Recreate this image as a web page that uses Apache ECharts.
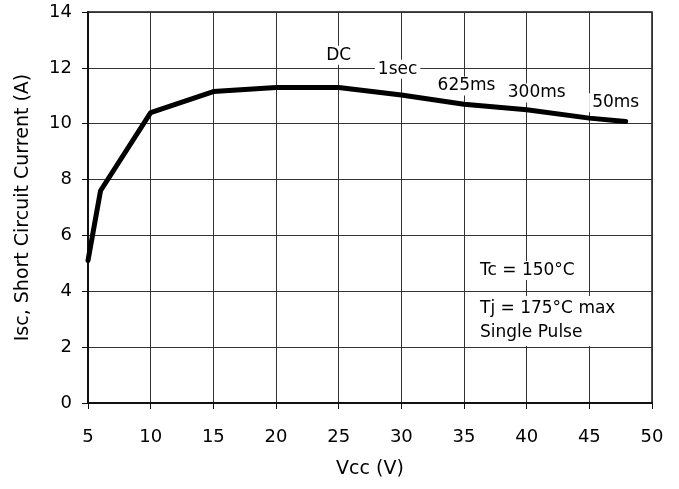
<!DOCTYPE html>
<html>
<head>
<meta charset="utf-8">
<script src="https://cdn.jsdelivr.net/npm/echarts@6/dist/echarts.min.js"></script>
<style>
  html, body { margin: 0; padding: 0; background: #fff; }
  #chart { width: 679px; height: 489px; }
</style>
</head>
<body>
<div id="chart"></div>
<script>
// Vcc (V) vs short circuit current (A)
const vcc = [5, 6, 10, 15, 20, 25, 30, 35, 40, 45, 47.9];
const isc = [5.1, 7.6, 10.4, 11.15, 11.3, 11.3, 11.03, 10.7, 10.5, 10.2, 10.08];

// pulse width labels placed along the curve
const noteNames = ['DC', '1sec', '625ms', '300ms', '50ms'];
const noteX = [25, 29.7, 35.2, 40.8, 47.1];
const noteY = [12.45, 11.95, 11.35, 11.1, 10.75];

const font = 'DejaVu Sans, sans-serif';
const chart = echarts.init(document.getElementById('chart'));

const option = {
  backgroundColor: '#fff',
  animation: false,
  grid: {left: 88, right: 27, top: 12, bottom: 86, show: true, borderColor: '#111', borderWidth: 1.5},
  xAxis: {
    type: 'value',
    min: 5,
    max: 50,
    interval: 5,
    name: 'Vcc (V)',
    nameLocation: 'middle',
    nameGap: 57,
    nameTextStyle: {color: '#000', fontSize: 19, fontFamily: font},
    axisLine: {lineStyle: {color: '#111', width: 2}},
    axisTick: {show: true, length: 6, lineStyle: {color: '#111'}},
    axisLabel: {color: '#000', fontSize: 18, fontFamily: font, margin: 25},
    splitLine: {show: true, lineStyle: {color: '#333', width: 1}}
  },
  yAxis: {
    type: 'value',
    min: 0,
    max: 14,
    interval: 2,
    name: 'Isc, Short Circuit Current (A)',
    nameLocation: 'middle',
    nameGap: 55,
    nameTextStyle: {color: '#000', fontSize: 19, fontFamily: font},
    axisLine: {show: true, lineStyle: {color: '#111', width: 2}},
    axisTick: {show: true, length: 6, lineStyle: {color: '#111'}},
    axisLabel: {color: '#000', fontSize: 18, fontFamily: font, margin: 16},
    splitLine: {show: true, lineStyle: {color: '#333', width: 1}}
  },
  series: [
    {
      type: 'line',
      data: vcc.map((v, i) => [v, isc[i]]),
      symbol: 'none',
      lineStyle: {color: '#000', width: 5, cap: 'round', join: 'round'},
      z: 3
    },
    {
      type: 'scatter',
      data: noteX.map((v, i) => ({name: noteNames[i], value: [v, noteY[i]]})),
      symbolSize: 0,
      itemStyle: {opacity: 1},
      label: {
        show: true,
        position: 'inside',
        formatter: '{b}',
        color: '#000',
        fontSize: 17,
        fontFamily: font,
        backgroundColor: '#fff',
        padding: [1, 3]
      },
      z: 4
    }
  ],
  graphic: [
    {
      type: 'text', left: 476, top: 261, z: 10,
      style: {text: 'Tc = 150°C', font: '17px ' + font, fill: '#000', backgroundColor: '#fff', padding: [1, 4]}
    },
    {
      type: 'text', left: 476, top: 296, z: 10,
      style: {text: 'Tj = 175°C max\nSingle Pulse', font: '17px ' + font, fill: '#000', lineHeight: 24, backgroundColor: '#fff', padding: [1, 4]}
    }
  ]
};

chart.setOption(option);
</script>
</body>
</html>
